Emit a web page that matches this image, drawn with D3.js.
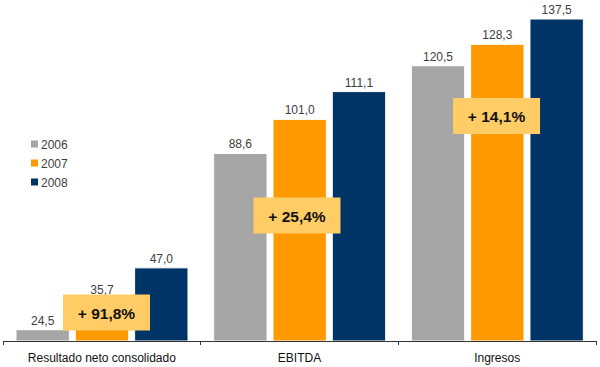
<!DOCTYPE html>
<html><head><meta charset="utf-8">
<script src="https://cdn.jsdelivr.net/npm/d3@7"></script>
<style>body{margin:0;background:#fff}svg{display:block}</style>
</head><body>
<svg id="c" width="600" height="367"></svg>
<script>
const categories = ["Resultado neto consolidado", "EBITDA", "Ingresos"];
const seriesNames = ["2006", "2007", "2008"];
const values2006 = [24.5, 88.6, 120.5];
const values2007 = [35.7, 101.0, 128.3];
const values2008 = [47.0, 111.1, 137.5];
const growthLabels = ["+ 91,8%", "+ 25,4%", "+ 14,1%"];
const colors = ["#A6A6A6", "#FF9900", "#003366"];

const seriesValues = [values2006, values2007, values2008];
const fmt = v => d3.format(".1f")(v).replace(".", ",");

const svg = d3.select("#c");
const baseY = 341;
const x0 = d3.scaleBand().domain(categories).range([3, 596]).padding(0);
const x1 = d3.scaleBand().domain(seriesNames).range([13, 185]).paddingInner(0.1);
const y = d3.scaleLinear().domain([20.4, 137.5]).range([baseY, 19]);

const badgeY = [312.5, 215.5, 116];
const badgeDx = [4.5, -2.7, -0.8];

categories.forEach((cat, ci) => {
  const g = svg.append("g").attr("transform", `translate(${x0(cat)},0)`);
  seriesNames.forEach((s, si) => {
    const v = seriesValues[si][ci];
    g.append("rect")
      .attr("x", x1(s)).attr("y", y(v))
      .attr("width", x1.bandwidth()).attr("height", baseY - y(v))
      .attr("fill", colors[si]).attr("stroke", "#fff").attr("stroke-width", 1);
    g.append("text")
      .attr("x", x1(s) + x1.bandwidth() / 2).attr("y", y(v) - 5)
      .attr("text-anchor", "middle")
      .attr("font-family", "Liberation Sans, Arial, sans-serif")
      .attr("font-size", 12).attr("fill", "#404040")
      .text(fmt(v));
  });
  // growth badge
  const cx = x1("2007") + x1.bandwidth() / 2 + badgeDx[ci];
  g.append("rect")
    .attr("x", cx - 43.5).attr("y", badgeY[ci] - 18)
    .attr("width", 87).attr("height", 36)
    .attr("fill", "#FFCC66");
  g.append("text")
    .attr("x", cx).attr("y", badgeY[ci] + 6)
    .attr("text-anchor", "middle")
    .attr("font-family", "Liberation Sans, Arial, sans-serif")
    .attr("font-size", 15.5).attr("font-weight", "bold").attr("fill", "#111")
    .text(growthLabels[ci]);
});

// axis
const axis = d3.axisBottom(x0).tickSize(0).tickSizeOuter(0);
const ax = svg.append("g").attr("transform", `translate(0,${baseY})`).call(axis);
ax.select(".domain").attr("stroke", "#333");
ax.selectAll(".tick text")
  .attr("dy", 0).attr("y", 21)
  .attr("font-family", "Liberation Sans, Arial, sans-serif")
  .attr("font-size", 12).attr("fill", "#111");
const bounds = [3, 200, 398, 596];
svg.append("g").selectAll("line").data(bounds).join("line")
  .attr("x1", d => d + 0.5).attr("x2", d => d + 0.5)
  .attr("y1", baseY).attr("y2", baseY + 4)
  .attr("stroke", "#333");

// legend
const leg = svg.append("g").attr("transform", "translate(31,144)");
seriesNames.forEach((s, i) => {
  leg.append("rect").attr("x", 0).attr("y", i * 19 - 3.5).attr("width", 7).attr("height", 7)
    .attr("fill", colors[i]);
  leg.append("text").attr("x", 10).attr("y", i * 19 + 4.5)
    .attr("font-family", "Liberation Sans, Arial, sans-serif")
    .attr("font-size", 12).attr("fill", "#404040").text(s);
});
</script>
</body></html>
